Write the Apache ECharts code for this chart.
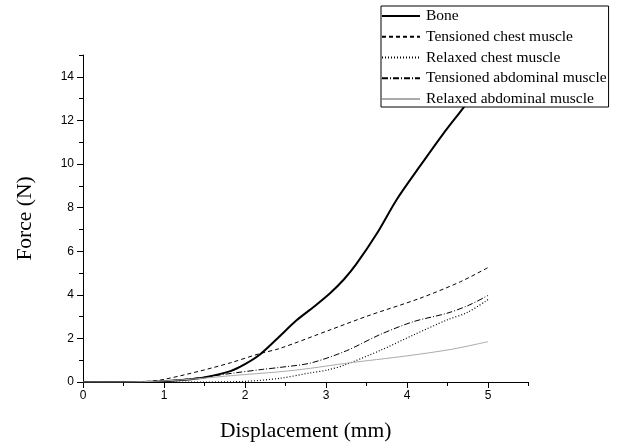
<!DOCTYPE html>
<html>
<head>
<meta charset="utf-8">
<script src="https://cdn.jsdelivr.net/npm/echarts@6/dist/echarts.min.js"></script>
<style>html,body{margin:0;padding:0;background:#fff;}#c{width:622px;height:443px;}</style>
</head>
<body>
<div id="c"></div>
<script>
var seriesNames = ['Bone', 'Tensioned chest muscle', 'Relaxed chest muscle', 'Tensioned abdominal muscle', 'Relaxed abdominal muscle'];

var bone = [[0,0],[0.5,0],[1,0.04],[1.26,0.1],[1.51,0.22],[1.82,0.5],[2.0,0.82],[2.18,1.25],[2.4,2.0],[2.64,2.84],[2.85,3.45],[3.05,4.07],[3.22,4.7],[3.38,5.44],[3.63,6.82],[3.87,8.35],[4.16,9.9],[4.44,11.35],[4.7,12.6],[5,14.1]];
var tensionedChest = [[0,0],[0.5,0],[0.8,0.03],[1,0.12],[1.44,0.5],[1.82,0.88],[2.18,1.3],[2.43,1.54],[3.05,2.39],[3.53,3.05],[4.16,3.84],[4.66,4.6],[5,5.25]];
var relaxedChest = [[0,0],[1.5,0],[2,0.03],[2.43,0.17],[2.81,0.42],[3.03,0.56],[3.23,0.78],[3.67,1.45],[4.08,2.16],[4.49,2.84],[4.75,3.2],[5,3.78]];
var tensionedAbdominal = [[0,0],[0.8,0],[1,0.04],[1.41,0.18],[1.86,0.41],[2.22,0.58],[2.43,0.67],[2.81,0.87],[3.25,1.43],[3.67,2.18],[4.08,2.77],[4.49,3.15],[4.75,3.5],[5,3.97]];
var relaxedAbdominal = [[0,0],[0.5,0],[1,0.05],[1.41,0.15],[1.86,0.3],[2.43,0.47],[2.81,0.63],[3.25,0.86],[4,1.2],[4.55,1.5],[5,1.85]];

var xMajorTicks = [0,1,2,3,4,5];
var xMinorTicks = [0.5,1.5,2.5,3.5,4.5,5.5];
var yMajorTicks = [0,2,4,6,8,10,12,14];
var yMinorTicks = [1,3,5,7,9,11,13,15];

var chart = echarts.init(document.getElementById('c'), null, {renderer:'canvas'});
var tickFont = {color:'#000', fontFamily:'Liberation Sans, Arial, sans-serif', fontSize:12};
var axisLineStyle = {color:'#000', width:1};
var serif = 'Liberation Serif, Times New Roman, serif';

chart.setOption({
  animation:false,
  backgroundColor:'#fff',
  grid:{left:83, right:93.5, top:55, bottom:61, containLabel:false, outerBoundsMode:'none'},
  legend:{
    orient:'vertical', left:381, top:6,
    padding:[2,2,0,0],
    itemWidth:38, itemHeight:14, itemGap:4.75,
    borderColor:'#000', borderWidth:1, backgroundColor:'#fff',
    itemStyle:{color:'transparent', borderColor:'transparent', borderWidth:0, opacity:0},
    textStyle:{color:'#000', fontFamily:serif, fontSize:15.5, padding:[0,0,0,1]},
    data:seriesNames, z:10
  },
  xAxis:[{
    type:'value', min:0, max:5.5, position:'bottom',
    name:'Displacement (mm)', nameLocation:'middle', nameGap:38,
    nameTextStyle:{color:'#000', fontFamily:serif, fontSize:21.5},
    axisLine:{show:true, lineStyle:axisLineStyle},
    axisTick:{show:true, length:6, customValues:xMajorTicks, lineStyle:axisLineStyle},
    axisLabel:Object.assign({customValues:xMajorTicks, margin:8}, tickFont),
    splitLine:{show:false}
  },{
    type:'value', min:0, max:5.5, position:'bottom',
    axisLine:{show:false},
    axisTick:{show:true, length:4, customValues:xMinorTicks, lineStyle:axisLineStyle},
    axisLabel:{show:false}, splitLine:{show:false}
  }],
  yAxis:[{
    type:'value', min:0, max:15, position:'left',
    name:'Force (N)', nameLocation:'middle', nameGap:47, nameRotate:90,
    nameTextStyle:{color:'#000', fontFamily:serif, fontSize:21.5},
    axisLine:{show:true, lineStyle:axisLineStyle},
    axisTick:{show:true, length:6, customValues:yMajorTicks, lineStyle:axisLineStyle},
    axisLabel:Object.assign({customValues:yMajorTicks, margin:9}, tickFont),
    splitLine:{show:false}
  },{
    type:'value', min:0, max:15, position:'left',
    axisLine:{show:false},
    axisTick:{show:true, length:4, customValues:yMinorTicks, lineStyle:axisLineStyle},
    axisLabel:{show:false}, splitLine:{show:false}
  }],
  series:[
    {name:seriesNames[0], type:'line', data:bone, symbol:'none', smooth:0.3, color:'#000', lineStyle:{color:'#000', width:2}},
    {name:seriesNames[1], type:'line', data:tensionedChest, symbol:'none', smooth:0.3, color:'#000', lineStyle:{color:'#000', width:1, type:[4,3]}},
    {name:seriesNames[2], type:'line', data:relaxedChest, symbol:'none', smooth:0.3, color:'#000', lineStyle:{color:'#000', width:1.2, type:[1,2]}},
    {name:seriesNames[3], type:'line', data:tensionedAbdominal, symbol:'none', smooth:0.3, color:'#000', lineStyle:{color:'#000', width:1, type:[6,2,1,2]}},
    {name:seriesNames[4], type:'line', data:relaxedAbdominal, symbol:'none', smooth:0.3, color:'#aaa', lineStyle:{color:'#aaa', width:1}}
  ]
});
</script>
</body>
</html>
